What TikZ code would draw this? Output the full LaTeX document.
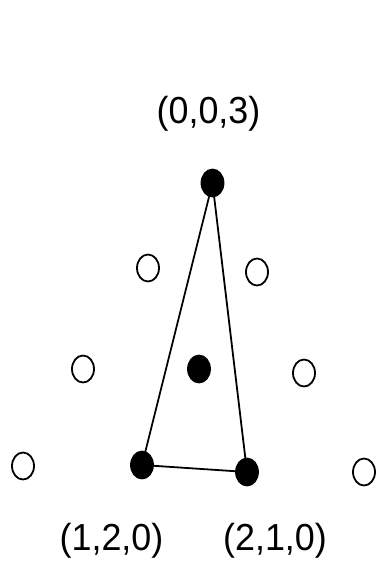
\documentclass[tikz,border=0pt]{standalone}
\usepackage{fontspec}
\setmainfont{Liberation Sans}
\usetikzlibrary{shapes.geometric}
\begin{document}
\begin{tikzpicture}[x=1bp,y=-1bp,
  full/.style={ellipse,fill=black,draw=black,line width=1.8bp,minimum width=22bp,minimum height=27bp,inner sep=0pt},
  open/.style={ellipse,draw=black,line width=1.8bp,minimum width=22bp,minimum height=27bp,inner sep=0pt},
  lab/.style={font=\fontsize{36}{40}\selectfont,inner sep=0pt,yscale=1.05},
  triline/.style={line width=1.8bp}]
\useasboundingbox[fill=white] (0,0) rectangle (377,571);
\node[lab] (l003) at (208.5,114) {(0,0,3)};
\node[lab] (l120) at (111.5,541) {(1,2,0)};
\node[lab] (l210) at (275,541) {(2,1,0)};
\node[full] (t) at (212.5,183) {};
\node[full] (c) at (199,369) {};
\node[full] (bl) at (142,465) {};
\node[full] (br) at (247,472) {};
\node[open] (o1) at (148,268) {};
\node[open] (o2) at (257,272) {};
\node[open] (o3) at (83,369) {};
\node[open] (o4) at (304,373) {};
\node[open] (o5) at (23,466) {};
\node[open] (o6) at (364,472) {};
\draw[triline] (t.center) -- (bl.center) -- (br.center) -- cycle;
\end{tikzpicture}
\end{document}
